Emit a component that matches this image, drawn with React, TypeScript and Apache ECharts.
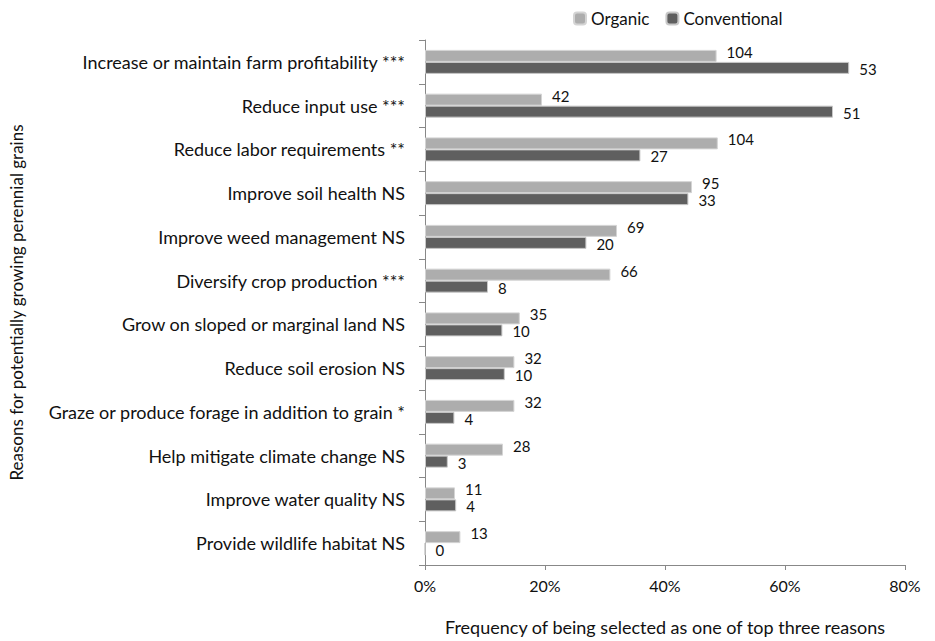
import React, { useEffect, useRef } from "react";
import * as echarts from "echarts";

const categories = [
  "Increase or maintain farm profitability ***",
  "Reduce input use ***",
  "Reduce labor requirements **",
  "Improve soil health NS",
  "Improve weed management NS",
  "Diversify crop production ***",
  "Grow on sloped or marginal land NS",
  "Reduce soil erosion NS",
  "Graze or produce forage in addition to grain *",
  "Help mitigate climate change NS",
  "Improve water quality NS",
  "Provide wildlife habitat NS",
];

// percentages (bar lengths)
const organicPct = [48.6, 19.5, 48.8, 44.5, 32.0, 30.9, 15.8, 14.9, 14.9, 13.0, 5.0, 5.9];
const conventionalPct = [70.7, 68.0, 35.9, 43.9, 26.9, 10.5, 12.9, 13.3, 4.9, 3.8, 5.2, 0];

// counts (labels)
const organicCounts = [104, 42, 104, 95, 69, 66, 35, 32, 32, 28, 11, 13];
const conventionalCounts = [53, 51, 27, 33, 20, 8, 10, 10, 4, 3, 4, 0];

const xTicks = [0, 20, 40, 60, 80];

const FONT = "Lato, 'Open Sans', sans-serif";

export default function App() {
  const ref = useRef<HTMLDivElement>(null);
  useEffect(() => {
    if (!ref.current) return;
    const chart = echarts.init(ref.current, null, { renderer: "svg" });
    chart.setOption({
      animation: false,
      textStyle: { fontFamily: FONT },
      legend: {
        top: 5,
        left: 568,
        itemWidth: 12,
        itemHeight: 12,
        itemGap: 16,
        textStyle: { fontFamily: FONT, fontSize: 17, color: "#111" },
        data: ["Organic", "Conventional"],
      },
      grid: { left: 425, right: 30, top: 40, bottom: 72, containLabel: false },
      xAxis: {
        type: "value",
        min: xTicks[0],
        max: xTicks[xTicks.length - 1],
        interval: 20,
        axisLine: { show: true, lineStyle: { color: "#888" } },
        axisTick: { show: true, length: 5, lineStyle: { color: "#888" } },
        splitLine: { show: false },
        axisLabel: {
          formatter: (v: number) => v + "%",
          fontFamily: FONT,
          fontSize: 16,
          color: "#111",
          margin: 12,
        },
        name: "Frequency of being selected as one of top three reasons",
        nameLocation: "middle",
        nameGap: 53,
        nameTextStyle: { fontFamily: FONT, fontSize: 18, color: "#111" },
      },
      yAxis: {
        type: "category",
        inverse: true,
        data: categories,
        axisLine: { show: true, lineStyle: { color: "#888" } },
        axisTick: { show: true, length: 6, lineStyle: { color: "#888" } },
        axisLabel: { fontFamily: FONT, fontSize: 18, color: "#111", margin: 20 },
        name: "Reasons for potentially growing perennial grains",
        nameLocation: "middle",
        nameGap: 400,
        nameRotate: 90,
        nameTextStyle: { fontFamily: FONT, fontSize: 17, color: "#111" },
      },
      series: [
        {
          name: "Organic",
          type: "bar",
          barWidth: 12,
          barGap: "0%",
          itemStyle: { color: "#adadad", borderColor: "#d4d4d4", borderWidth: 1 },
          data: organicPct,
          label: {
            show: true,
            position: "right",
            distance: 10,
            offset: [0, -4],
            fontFamily: FONT,
            fontSize: 15,
            lineHeight: 14,
            color: "#111",
            formatter: (p: any) => String(organicCounts[p.dataIndex]),
          },
        },
        {
          name: "Conventional",
          type: "bar",
          barWidth: 12,
          barGap: "0%",
          itemStyle: { color: "#5f5f5f", borderColor: "#c8c8c8", borderWidth: 1 },
          data: conventionalPct,
          label: {
            show: true,
            position: "right",
            distance: 10,
            offset: [0, 1],
            fontFamily: FONT,
            fontSize: 15,
            lineHeight: 14,
            color: "#111",
            formatter: (p: any) => String(conventionalCounts[p.dataIndex]),
          },
        },
      ],
    });
    return () => chart.dispose();
  }, []);
  return <div ref={ref} style={{ width: 935, height: 641, position: "absolute", left: 0, top: 0 }} />;
}
